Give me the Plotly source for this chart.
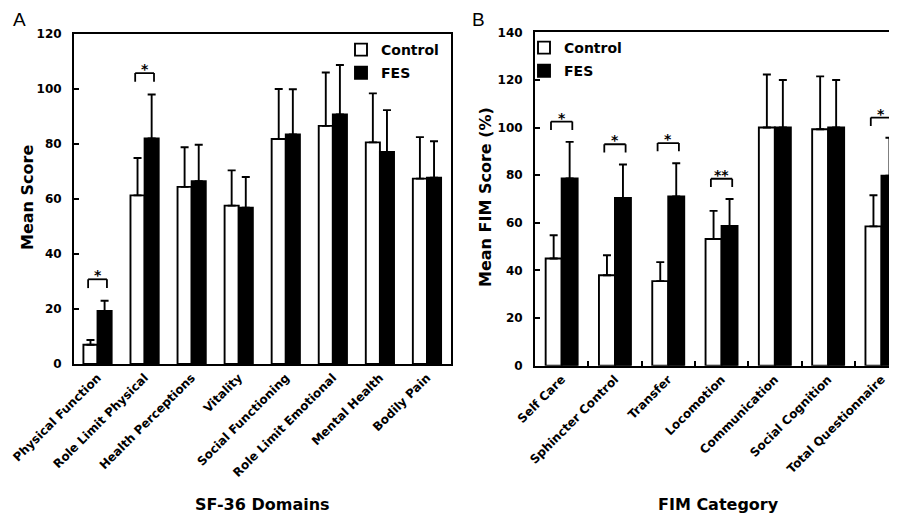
import plotly.graph_objects as go

# ---------------- data ----------------
sf36_domains = ["Physical Function", "Role Limit Physical", "Health Perceptions", "Vitality",
                "Social Functioning", "Role Limit Emotional", "Mental Health", "Bodily Pain"]
sf36_control = [7, 61.3, 64.4, 57.6, 81.8, 86.6, 80.6, 67.4]
sf36_control_err = [1.7, 13.6, 14.4, 12.8, 18.2, 19.4, 17.8, 15.1]
sf36_fes = [19.3, 82, 66.5, 56.8, 83.5, 90.7, 77.1, 67.7]
sf36_fes_err = [3.7, 16, 13.2, 11.2, 16.4, 18.0, 15.2, 13.3]
sf36_sig = ["*", "*", "", "", "", "", "", ""]

fim_categories = ["Self Care", "Sphincter Control", "Transfer", "Locomotion",
                  "Communication", "Social Cognition", "Total Questionnaire"]
fim_control = [45, 38, 35.5, 53.2, 100, 99.3, 58.5]
fim_control_err = [9.8, 8.4, 8.0, 11.8, 22.3, 22.2, 13.1]
fim_fes = [78.6, 70.4, 71.1, 58.7, 100, 100, 79.8]
fim_fes_err = [15.4, 14.1, 13.9, 11.3, 20, 20, 15.9]
fim_sig = ["*", "*", "*", "**", "", "", "*"]

y_ticks_a = [0, 20, 40, 60, 80, 100, 120]
y_ticks_b = [0, 20, 40, 60, 80, 100, 120, 140]

BOLD = "DejaVu Sans"
OFF = 8                      # page body margin of the html page
W, H = 897 - OFF, 518 - OFF  # drawing size that is visible in the window


def px(x):
    return (x - OFF) / W


def py(y):
    return 1 - (y - OFF) / H


fig = go.Figure()


def add_pair(cats, ctrl, ctrl_err, fes, fes_err, xa, ya, legend, tag):
    fig.add_trace(go.Bar(
        x=cats, y=ctrl, name="Control", xaxis=xa, yaxis=ya, legend=legend,
        legendgroup="c" + tag,
        marker=dict(color="white", line=dict(color="black", width=1.9)),
        error_y=dict(type="data", array=ctrl_err, arrayminus=[0] * len(ctrl),
                     symmetric=False, color="black", thickness=1.9, width=4),
    ))
    fig.add_trace(go.Bar(
        x=cats, y=fes, name="FES", xaxis=xa, yaxis=ya, legend=legend,
        legendgroup="f" + tag,
        marker=dict(color="black", line=dict(color="black", width=1.9)),
        error_y=dict(type="data", array=fes_err, arrayminus=[0] * len(fes),
                     symmetric=False, color="black", thickness=1.9, width=4),
    ))


add_pair(sf36_domains, sf36_control, sf36_control_err, sf36_fes, sf36_fes_err, "x", "y", "legend", "A")
add_pair(fim_categories, fim_control, fim_control_err, fim_fes, fim_fes_err, "x2", "y2", "legend2", "B")

shapes = []
annotations = []


def add_brackets(sig, ctrl, ctrl_err, fes, fes_err, xr, yr, off, hgt):
    for i, s in enumerate(sig):
        if not s:
            continue
        top = max(ctrl[i] + ctrl_err[i], fes[i] + fes_err[i])
        y0 = top + off
        y1 = y0 + hgt
        xl, xh = i - 0.2, i + 0.2
        line = dict(color="black", width=1.8)
        shapes.append(dict(type="line", xref=xr, yref=yr, x0=xl, x1=xl, y0=y0, y1=y1, line=line))
        shapes.append(dict(type="line", xref=xr, yref=yr, x0=xl, x1=xh, y0=y1, y1=y1, line=line))
        shapes.append(dict(type="line", xref=xr, yref=yr, x0=xh, x1=xh, y0=y0, y1=y1, line=line))
        annotations.append(dict(x=i, y=y1, xref=xr, yref=yr, text=s, showarrow=False,
                                yanchor="middle", yshift=4,
                                font=dict(family=BOLD, size=14, color="black", weight="bold")))


add_brackets(sf36_sig, sf36_control, sf36_control_err, sf36_fes, sf36_fes_err, "x", "y", 4.6, 3.2)
add_brackets(fim_sig, fim_control, fim_control_err, fim_fes, fim_fes_err, "x2", "y2", 5.0, 3.5)

title_font = dict(family=BOLD, size=16, color="black", weight="bold")
annotations += [
    dict(text="SF-36 Domains", x=px(262), y=py(504), xref="paper", yref="paper",
         showarrow=False, xanchor="center", yanchor="middle", font=title_font),
    dict(text="FIM Category", x=px(718), y=py(504), xref="paper", yref="paper",
         showarrow=False, xanchor="center", yanchor="middle", font=title_font),
    dict(text="Mean Score", x=px(27), y=py(198), xref="paper", yref="paper",
         showarrow=False, xanchor="center", yanchor="middle", textangle=-90, font=title_font),
    dict(text="Mean FIM Score (%)", x=px(485), y=py(197), xref="paper", yref="paper",
         showarrow=False, xanchor="center", yanchor="middle", textangle=-90, font=title_font),
    dict(text="A", x=px(19), y=py(19), xref="paper", yref="paper", showarrow=False,
         xanchor="center", yanchor="middle",
         font=dict(family="Liberation Sans", size=19, color="black")),
    dict(text="B", x=px(478), y=py(19), xref="paper", yref="paper", showarrow=False,
         xanchor="center", yanchor="middle",
         font=dict(family="Liberation Sans", size=19, color="black")),
]

tick_font = dict(family=BOLD, size=12, color="black", weight="bold")
axis_common = dict(showline=True, linecolor="black", linewidth=2, showgrid=False,
                   zeroline=False, tickfont=tick_font, automargin=False)

legend_common = dict(font=dict(family=BOLD, size=14, color="black", weight="bold"),
                     bgcolor="rgba(0,0,0,0)", borderwidth=0, xanchor="left", yanchor="top",
                     traceorder="grouped", tracegroupgap=2, itemwidth=30)

fig.update_layout(
    width=W, height=H,
    margin=dict(l=0, r=0, t=0, b=0, autoexpand=False),
    paper_bgcolor="white", plot_bgcolor="white",
    barmode="group", bargap=0.4, bargroupgap=0,
    xaxis=dict(axis_common, domain=[px(74), px(450.5)], anchor="y", tickangle=-45,
               ticks="", mirror=True, range=[-0.5, len(sf36_domains) - 0.5]),
    yaxis=dict(axis_common, domain=[py(364), py(34)], anchor="x", range=[0, 120],
               tickvals=y_ticks_a, ticks="inside", ticklen=5, tickcolor="black", tickwidth=1.5,
               mirror=True, ticklabelstandoff=8),
    xaxis2=dict(axis_common, domain=[px(535), 1.0], anchor="y2", tickangle=-45,
                ticks="inside", tickson="boundaries", ticklen=5, tickcolor="black", tickwidth=1.5,
                mirror=True, range=[-0.5, -0.5 + (897 - 535) / 53.3]),
    yaxis2=dict(axis_common, domain=[py(365.7), py(32.3)], anchor="x2", range=[0, 140],
                tickvals=y_ticks_b, ticks="inside", ticklen=5, tickcolor="black", tickwidth=1.5,
                ticklabelstandoff=8),
    legend=dict(legend_common, x=px(381 - 40), y=py(34)),
    legend2=dict(legend_common, x=px(564 - 40), y=py(32)),
    shapes=shapes,
    annotations=annotations,
    showlegend=True,
)

fig.write_html("out.html")
